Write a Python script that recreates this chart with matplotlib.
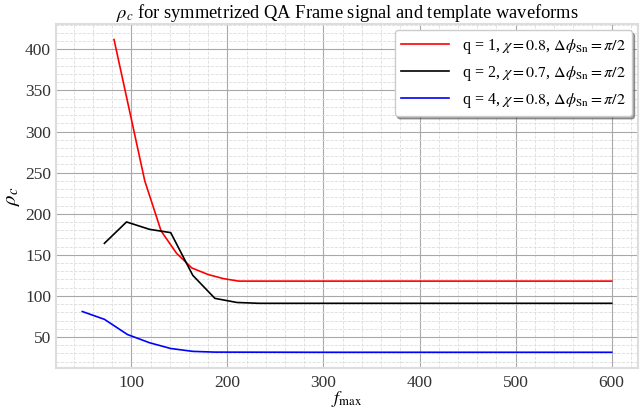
import numpy as np
import matplotlib
matplotlib.use("Agg")
import matplotlib.pyplot as plt
from matplotlib.ticker import AutoMinorLocator

plt.rcParams['font.family'] = ['Liberation Serif', 'DejaVu Serif']
plt.rcParams['mathtext.fontset'] = 'stix'

# q = 1, chi = 0.8
f_q1 = [82, 98, 114, 131, 147, 163, 180, 196, 212, 300, 400, 500, 600]
rho_q1 = [412, 326, 240, 179, 152, 134, 126, 121, 118, 118, 118, 118, 118]

# q = 2, chi = 0.7
f_q2 = [72, 95, 119, 141, 164, 187, 210, 233, 300, 400, 500, 600]
rho_q2 = [164, 190, 181, 177, 125, 97, 92, 91, 91, 91, 91, 91]

# q = 4, chi = 0.8
f_q4 = [49, 72, 96, 119, 141, 164, 187, 300, 400, 500, 600]
rho_q4 = [81, 71.5, 53, 43, 36, 32.5, 31.6, 31.4, 31.4, 31.4, 31.4]

labels = [r'q = 1, $\chi = 0.8$, $\Delta\phi_{\mathrm{Sn}} = \pi/2$',
          r'q = 2, $\chi = 0.7$, $\Delta\phi_{\mathrm{Sn}} = \pi/2$',
          r'q = 4, $\chi = 0.8$, $\Delta\phi_{\mathrm{Sn}} = \pi/2$']

fig = plt.figure(figsize=(6.42, 4.12), dpi=100)
ax = fig.add_axes([0.087, 0.107, 0.907, 0.835])

ax.plot(f_q1, rho_q1, color='red', lw=1.2, label=labels[0])
ax.plot(f_q2, rho_q2, color='black', lw=1.2, label=labels[1])
ax.plot(f_q4, rho_q4, color='blue', lw=1.2, label=labels[2])

ax.xaxis.set_minor_locator(AutoMinorLocator(5))
ax.yaxis.set_minor_locator(AutoMinorLocator(5))
ax.grid(which='major', color='#a8a8a8', lw=0.8)
ax.grid(which='minor', color='#dddddd', lw=0.6, ls='--')
ax.set_axisbelow(True)
ax.tick_params(which='both', length=0, labelsize=12.5, colors='#333333')
ax.tick_params(axis='x', pad=5)
for s in ax.spines.values():
    s.set_color('#dddddd')
    s.set_linewidth(1.5)

ax.set_title(r'$\rho_c$ for symmetrized QA Frame signal and template waveforms',
             fontsize=13.3, pad=4)
ax.set_xlabel(r'$f_{\mathrm{max}}$', fontsize=13, labelpad=-1)
ax.set_ylabel(r'$\rho_c$', fontsize=15, labelpad=2)

ax.legend(loc='upper right', fontsize=11.5, shadow=True, fancybox=True,
          framealpha=1, edgecolor='#cccccc', handlelength=3.0,
          borderaxespad=0.4)

fig.savefig('out.png', dpi=100)
